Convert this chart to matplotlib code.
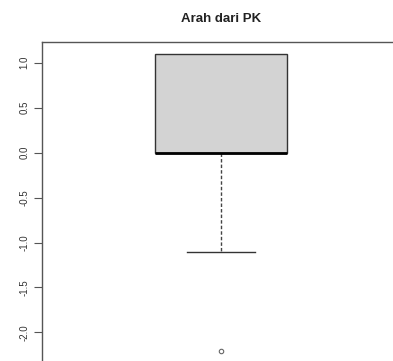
import matplotlib
matplotlib.use("Agg")
import matplotlib.pyplot as plt

title = "Arah dari PK"
q1 = 0.0
median = 0.0
q3 = 1.10
whisker_low = -1.10
whisker_high = 1.10
outliers = [-2.21]
yticks = [-2.0, -1.5, -1.0, -0.5, 0.0, 0.5, 1.0]
ytick_labels = ["-2.0", "-1.5", "-1.0", "-0.5", "0.0", "0.5", "1.0"]

plt.rcParams['font.family'] = ['Liberation Sans', 'DejaVu Sans']

W, H = 393, 361
fig = plt.figure(figsize=(W / 100, H / 100), dpi=100)
# axes box: left 42px, top 42px, extends beyond right/bottom of the image
ax = fig.add_axes([42 / W, (H - 363) / H, 358 / W, 321 / H])

stats = [dict(med=median, q1=q1, q3=q3, whislo=whisker_low, whishi=whisker_high,
              fliers=outliers)]
parts = ax.bxp(stats, positions=[1], widths=0.37, patch_artist=True, showcaps=True,
       boxprops=dict(facecolor='#d3d3d3', edgecolor='#333333', linewidth=1.0),
       medianprops=dict(color='black', linewidth=2.0, solid_capstyle='butt'),
       whiskerprops=dict(color='#444444', linewidth=1.0, linestyle=(0, (2.5, 1.5))),
       capprops=dict(color='#333333', linewidth=1.0),
       flierprops=dict(marker='o', markersize=3.2, markerfacecolor='none',
                       markeredgecolor='#666666', markeredgewidth=0.8),
       capwidths=0.19)
parts['caps'][1].set_visible(False)

ax.set_xlim(0.5, 1.5)
ax.set_ylim(-2.34, 1.23)
ax.set_xticks([])
ax.set_yticks(yticks)
ax.set_yticklabels(ytick_labels, rotation=90, va='center', fontsize=7, color='#333333')
ax.tick_params(axis='y', length=6, width=0.8, color='#555555', pad=3)
for s in ax.spines.values():
    s.set_color('#555555')
    s.set_linewidth(1.0)

fig.text(221 / W, 1 - 19 / H, title, ha='center', va='center', fontsize=9.5,
         fontweight='bold', color='#222222')

fig.savefig("out.png", dpi=100)
